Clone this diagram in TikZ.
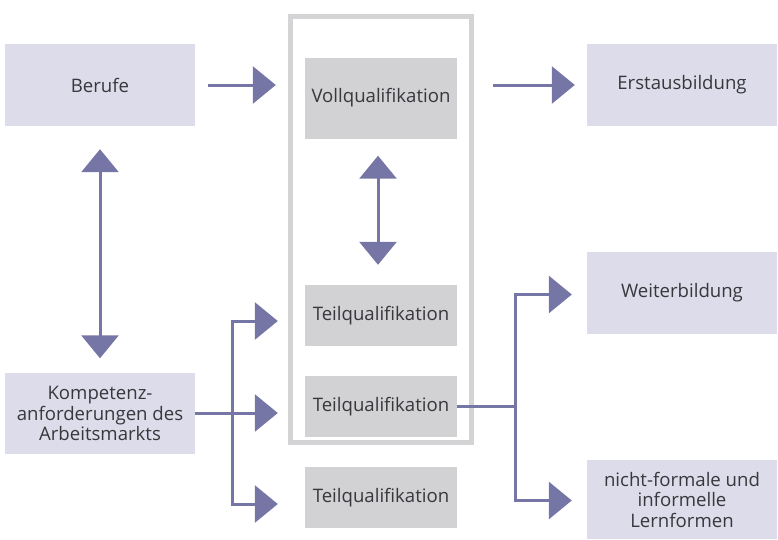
\documentclass[tikz,border=0pt]{standalone}
\usepackage{fontspec}
\setmainfont{Open Sans}
\usetikzlibrary{arrows.meta}
\definecolor{lav}{RGB}{220,220,234}
\definecolor{gbox}{RGB}{210,210,212}
\definecolor{frm}{RGB}{212,212,214}
\definecolor{arr}{RGB}{118,118,166}
\definecolor{txt}{RGB}{55,55,60}
\tikzset{
  base/.style={rectangle, inner sep=0pt, align=center, text=txt,
    font=\fontsize{18.6}{20.5}\selectfont},
  lavbox/.style={base, fill=lav, minimum width=190pt},
  graybox/.style={base, fill=gbox, minimum width=152pt},
  ln/.style={draw=arr, line width=3pt},
  arrw/.style={ln, -{Triangle[length=23pt,width=37pt]}},
  darrw/.style={ln, {Triangle[length=23pt,width=37pt]}-{Triangle[length=23pt,width=37pt]}},
}
\begin{document}
\begin{tikzpicture}[x=1pt,y=-1pt]
\useasboundingbox (0,0) rectangle (778,539);
% frame
\node[draw=frm, line width=5pt, minimum width=181.5pt, minimum height=426.5pt, inner sep=0pt] (frame) at (380.75,229.25) {};
% boxes
\node[lavbox, minimum height=82pt] (ber) at (100,85) {Berufe};
\node[lavbox, minimum height=81pt] (komp) at (100,413.5) {Kompetenz-\\anforderungen des\\Arbeitsmarkts};
\node[graybox, minimum height=81pt] (voll) at (381,98) {Vollqualifikation};
\node[graybox, minimum height=61pt] (t1) at (381,315.5) {Teilqualifikation};
\node[graybox, minimum height=61pt] (t2) at (381,406.5) {Teilqualifikation};
\node[graybox, minimum height=61pt] (t3) at (381,497.5) {Teilqualifikation};
\node[lavbox, minimum height=82pt] (erst) at (682,85) {Erstausbildung};
\node[lavbox, minimum height=82pt] (weit) at (682,292.5) {Weiterbildung};
\node[lavbox, minimum height=79pt] (nf) at (682,499.5) {nicht-formale und\\informelle\\Lernformen};
% arrows top row
\draw[arrw, shorten <=13pt, shorten >=29pt] (ber.east) -- (ber.east -| voll.west);
\draw[arrw, shorten <=36pt, shorten >=12pt] (erst.west -| voll.east) -- (erst.west);
% vertical double arrows
\draw[darrw, shorten <=23pt, shorten >=14.5pt] (ber.south) -- (komp.north);
\draw[darrw, shorten <=17pt, shorten >=20pt] ([xshift=-3pt]voll.south) -- ([xshift=-3pt]t1.north);
% left branch
\coordinate (br) at (232,413);
\draw[ln] (komp.east |- br) -- (br);
\draw[arrw, shorten >=27pt] (br) |- ([yshift=-5.5pt]t1.west);
\draw[arrw, shorten >=27pt] (br) -- (br -| t2.west);
\draw[arrw, shorten >=27pt] (br) |- ([yshift=-6.5pt]t3.west);
% right branch
\coordinate (br2) at (515,406.5);
\draw[ln] (t2.east) -- (br2);
\draw[arrw, shorten >=15pt] (br2) |- ([yshift=-2pt]weit.west);
\draw[arrw, shorten >=15pt] (br2) |- ([yshift=-1pt]nf.west);
\end{tikzpicture}
\end{document}
